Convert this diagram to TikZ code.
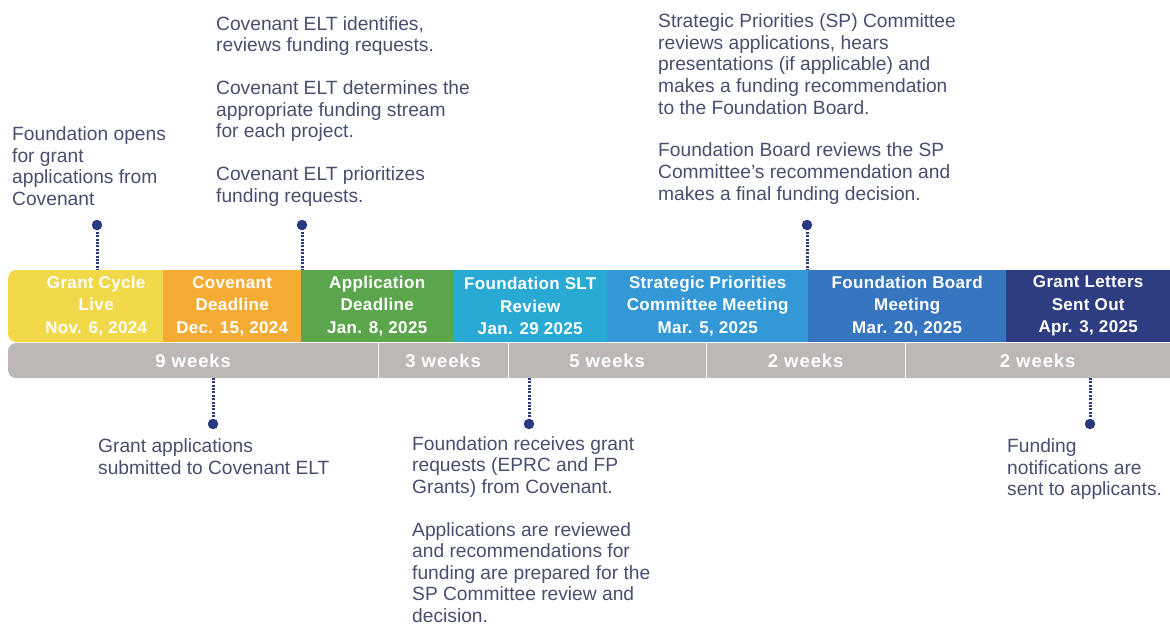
\documentclass[tikz,border=0pt]{standalone}
\usepackage{fontspec}
\setmainfont{Liberation Sans}
\definecolor{cYellow}{RGB}{241,217,74}
\definecolor{cOrange}{RGB}{245,172,53}
\definecolor{cGreen}{RGB}{91,166,76}
\definecolor{cTeal}{RGB}{40,170,212}
\definecolor{cSky}{RGB}{52,152,214}
\definecolor{cBlue}{RGB}{54,118,192}
\definecolor{cNavy}{RGB}{46,61,130}
\definecolor{cGrey}{RGB}{189,183,181}
\definecolor{cDot}{RGB}{43,58,128}
\definecolor{cText}{RGB}{72,78,112}
\begin{document}
\begin{tikzpicture}[x=1pt,y=-1pt,
  seg/.style={minimum height=72pt, inner sep=0pt, text=white, align=center, anchor=west,
    font=\bfseries\fontsize{17}{22.5}\selectfont\addfontfeatures{LetterSpace=2}},
  weeks/.style={minimum height=35pt, inner sep=0pt, text=white, anchor=west,
    font=\bfseries\fontsize{18.5}{20}\selectfont\addfontfeatures{LetterSpace=5}},
  note/.style={anchor=base west, inner sep=0pt, align=left, text=cText,
    font=\fontsize{19.2}{21.6}\selectfont},
  pin/.style={circle, fill=cDot, inner sep=0pt, minimum size=10.5pt},
  pinline/.style={draw=cDot, line width=3pt, dash pattern=on 2pt off 1.4pt},
  sepline/.style={draw=white, line width=1.6pt}]
\useasboundingbox (0,0) rectangle (1170,626);

% top timeline segments
\node[seg, fill=cYellow, rounded corners=8pt, minimum width=176pt] (s1) at (8,306) {Grant Cycle\\Live\\Nov. 6, 2024};
\node[seg, fill=cOrange, minimum width=138pt] (s2) at (163,306) {Covenant\\Deadline\\Dec. 15, 2024};
\node[seg, fill=cGreen, minimum width=152pt] (s3) at (301,306) {Application\\Deadline\\Jan. 8, 2025};
\node[seg, fill=cTeal, minimum width=154pt] (s4) at (453,306) {Foundation SLT\\Review\\Jan. 29 2025};
\node[seg, fill=cSky, minimum width=201pt] (s5) at (607,306) {Strategic Priorities\\Committee Meeting\\Mar. 5, 2025};
\node[seg, fill=cBlue, minimum width=198pt] (s6) at (808,306) {Foundation Board\\Meeting\\Mar. 20, 2025};
\node[seg, fill=cNavy, minimum width=164pt] (s7) at (1006,306) {Grant Letters\\Sent Out\\Apr. 3, 2025};

% weeks bar
\fill[cGrey, rounded corners=8pt] (8,343) rectangle (1190,378);
\node[weeks, minimum width=370pt] (w1) at (8,360.5) {9 weeks};
\node[weeks, minimum width=130pt] (w2) at (378,360.5) {3 weeks};
\node[weeks, minimum width=198pt] (w3) at (508,360.5) {5 weeks};
\node[weeks, minimum width=199pt] (w4) at (706,360.5) {2 weeks};
\node[weeks, minimum width=265pt] (w5) at (905,360.5) {2 weeks};
\draw[sepline] (w1.north east) -- (w1.south east);
\draw[sepline] (w2.north east) -- (w2.south east);
\draw[sepline] (w3.north east) -- (w3.south east);
\draw[sepline] (w4.north east) -- (w4.south east);

% notes (anchored at the baseline of their last line)
\node[note] (t1) at (12,205.5) {Foundation opens\\for grant\\applications from\\Covenant};
\node[note] (t2) at (216,202) {Covenant ELT identifies,\\reviews funding requests.\\[21.2pt]Covenant ELT determines the\\appropriate funding stream\\for each project.\\[21.2pt]Covenant ELT prioritizes\\funding requests.};
\node[note] (t3) at (658,200) {Strategic Priorities (SP) Committee\\reviews applications, hears\\presentations (if applicable) and\\makes a funding recommendation\\to the Foundation Board.\\[21.2pt]Foundation Board reviews the SP\\Committee’s recommendation and\\makes a final funding decision.};
\node[note] (t4) at (98,474.3) {Grant applications\\submitted to Covenant ELT};
\node[note] (t5) at (412,622.4) {Foundation receives grant\\requests (EPRC and FP\\Grants) from Covenant.\\[21.2pt]Applications are reviewed\\and recommendations for\\funding are prepared for the\\SP Committee review and\\decision.};
\node[note] (t6) at (1007,495.9) {Funding\\notifications are\\sent to applicants.};

% pins and dotted connectors
\coordinate (c1) at (97,270);
\coordinate (c2) at (302,270);
\coordinate (c3) at (807,270);
\coordinate (c4) at (213,378);
\coordinate (c5) at (529,378);
\coordinate (c6) at (1090,378);
\node[pin] (p1) at (97,225) {};
\node[pin] (p2) at (302,225) {};
\node[pin] (p3) at (807,225) {};
\node[pin] (p4) at (213,424) {};
\node[pin] (p5) at (529,424) {};
\node[pin] (p6) at (1090,424) {};
\draw[pinline] (p1.center) -- (c1);
\draw[pinline] (p2.center) -- (c2);
\draw[pinline] (p3.center) -- (c3);
\draw[pinline] (p4.center) -- (c4);
\draw[pinline] (p5.center) -- (c5);
\draw[pinline] (p6.center) -- (c6);
\end{tikzpicture}
\end{document}
